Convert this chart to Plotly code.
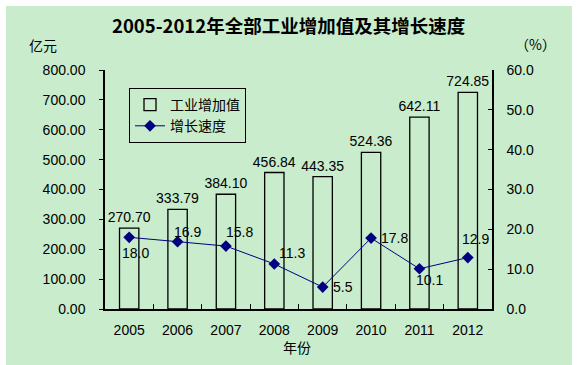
import plotly.graph_objects as go

years = ["2005", "2006", "2007", "2008", "2009", "2010", "2011", "2012"]
industry_value = [270.70, 333.79, 384.10, 456.84, 443.35, 524.36, 642.11, 724.85]
growth_rate = [18.0, 16.9, 15.8, 11.3, 5.5, 17.8, 10.1, 12.9]

# label offsets (pixels) for the growth-rate labels
growth_dx = [6, 10, 14, 18, 20, 23, 10, 8]
growth_dy = [-16, 10, 14, 11, 0, 0, -11, 19]

BG = "rgb(200,236,204)"
FONT = "Liberation Sans, Arial, Noto Sans CJK SC"
CJK = "Noto Sans CJK SC"
W, H = 578, 365
L, R, T, B = 105, 86, 70, 56
pw, ph = W - L - R, H - T - B


def px(x):
    return (x - L) / pw


def py(y):
    return (H - B - y) / ph


fig = go.Figure()
fig.add_trace(go.Bar(
    x=years, y=industry_value, name="工业增加值",
    marker=dict(color="rgba(0,0,0,0)", line=dict(color="black", width=1.3)),
    width=0.4,
    text=[f"{v:.2f}" for v in industry_value], textposition="outside",
    constraintext="none",
    textfont=dict(size=14, color="black", family=FONT),
    cliponaxis=False,
))
fig.add_trace(go.Scatter(
    x=years, y=growth_rate, name="增长速度", yaxis="y2",
    mode="lines+markers",
    line=dict(color="#000080", width=1),
    marker=dict(symbol="diamond", size=9, color="#000080"),
    cliponaxis=False,
))

annotations = [
    dict(text="<b>2005-2012年全部工业增加值及其增长速度</b>", xref="paper", yref="paper",
         x=px(288), y=py(25), xanchor="center", yanchor="middle", showarrow=False,
         font=dict(size=18.5, family=CJK, color="black")),
    dict(text="亿元", xref="paper", yref="paper", x=px(43), y=py(45),
         xanchor="center", yanchor="middle", showarrow=False,
         font=dict(size=14, family=CJK)),
    dict(text="（%）", xref="paper", yref="paper", x=px(535), y=py(44),
         xanchor="center", yanchor="middle", showarrow=False,
         font=dict(size=14, family=CJK)),
    dict(text="年份", xref="paper", yref="paper", x=px(297), y=py(347),
         xanchor="center", yanchor="middle", showarrow=False,
         font=dict(size=14, family=CJK)),
]
for i, (g, dx, dy) in enumerate(zip(growth_rate, growth_dx, growth_dy)):
    annotations.append(dict(
        text=f"{g:.1f}", x=i, y=g, xref="x", yref="y2", showarrow=False,
        xanchor="center", yanchor="middle", xshift=dx, yshift=dy,
        font=dict(size=14, family=FONT, color="black"),
    ))

fig.update_layout(
    width=W, height=H,
    margin=dict(l=L, r=R, t=T, b=B),
    paper_bgcolor=BG, plot_bgcolor=BG,
    font=dict(family=FONT, size=14, color="black"),
    showlegend=True,
    legend=dict(x=px(129), y=py(88), xanchor="left", yanchor="top",
                bgcolor=BG, bordercolor="black", borderwidth=1,
                font=dict(size=14, family=CJK),
                tracegroupgap=0, itemwidth=30),
    bargap=0.6,
    xaxis=dict(type="category", categoryorder="array", categoryarray=years,
               range=[-0.5, len(years) - 0.5],
               showline=True, linecolor="black", linewidth=1.5,
               ticks="inside", tickson="boundaries", ticklen=5,
               tickcolor="black", showgrid=False, ticklabelstandoff=7,
               tickfont=dict(size=14)),
    yaxis=dict(range=[0, 800], dtick=100, tickformat=".2f",
               showline=True, linecolor="black", linewidth=1.5,
               ticks="outside", ticklen=4, tickcolor="black",
               showgrid=False, zeroline=False, ticklabelstandoff=11,
               tickfont=dict(size=14)),
    yaxis2=dict(range=[0, 60], dtick=10, tickformat=".1f", overlaying="y",
                side="right", showline=True, linecolor="black", linewidth=1.5,
                ticks="inside", ticklen=4, tickcolor="black",
                showgrid=False, zeroline=False, ticklabelstandoff=10,
                tickfont=dict(size=14)),
    shapes=[
        dict(type="rect", xref="paper", yref="paper", x0=px(0), x1=px(6),
             y0=py(H), y1=py(0), fillcolor="white", line_width=0, layer="below"),
        dict(type="rect", xref="paper", yref="paper", x0=px(0), x1=px(W),
             y0=py(6), y1=py(0), fillcolor="white", line_width=0, layer="below"),
        dict(type="rect", xref="paper", yref="paper", x0=px(572), x1=px(W),
             y0=py(H), y1=py(0), fillcolor="white", line_width=0, layer="below"),
    ],
    annotations=annotations,
)

fig.write_html("out.html",
               config={"displayModeBar": False},
               post_script="document.body.style.margin='0';document.body.style.overflow='hidden';")
